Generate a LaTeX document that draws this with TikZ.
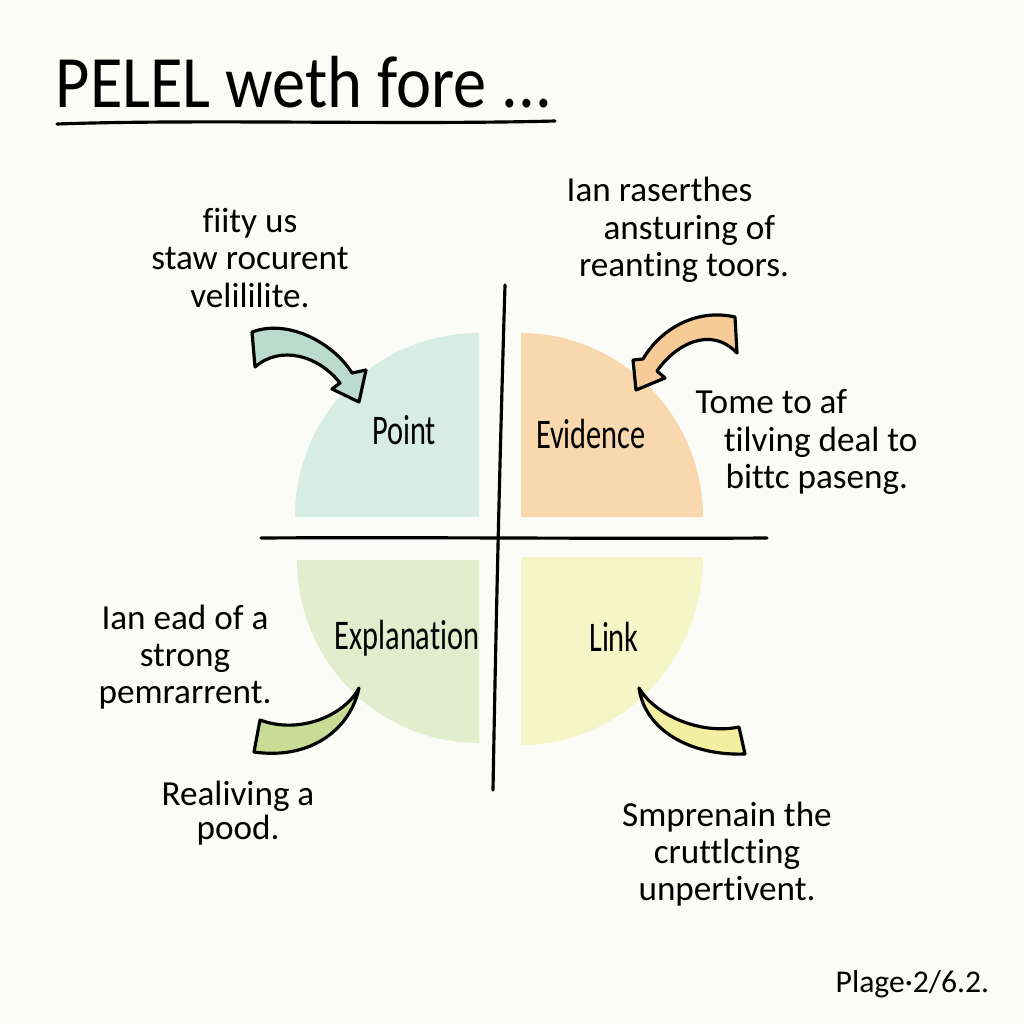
\documentclass[tikz,border=0pt]{standalone}
\usepackage{fontspec}
\setmainfont[Ligatures=NoCommon]{Carlito}
\newfontfamily\handtitle[FakeStretch=0.9,Ligatures=NoCommon]{Carlito}
\newfontfamily\handslim[FakeStretch=0.72,Ligatures=NoCommon]{Carlito}
\definecolor{pgback}{HTML}{FBFBF7}
\definecolor{ptfill}{HTML}{D6ECE5}
\definecolor{evfill}{HTML}{F9D8AE}
\definecolor{exfill}{HTML}{E2EDCD}
\definecolor{lkfill}{HTML}{F4F6C8}
\definecolor{ptarrow}{HTML}{B9DACD}
\definecolor{evarrow}{HTML}{F6CB96}
\definecolor{exarrow}{HTML}{C8DC96}
\definecolor{lkarrow}{HTML}{F3EEA0}

\begin{document}
\begin{tikzpicture}[x=0.01cm,y=-0.01cm,
  note/.style={align=center,inner sep=0pt,font=\fontsize{10}{10.6}\selectfont},
  lbl/.style={inner sep=0pt,font=\handslim\fontsize{12}{14}\selectfont},
  pen/.style={line width=0.9pt,line cap=round},
  blockarrow/.style={draw=black,line width=0.9pt,line join=round}]
  % Paper
  \fill[pgback] (0,0) rectangle (1024,1024);
  \useasboundingbox (0,0) rectangle (1024,1024);
  % Title and underline
  \node[anchor=base west,inner sep=0pt,font=\handtitle\fontsize{21}{24}\selectfont]
    (title) at (55,107) {PELEL weth fore ...};
  \draw[pen] (57,124) .. controls (200,119) and (400,125) .. (555,121);
  % Quarter petals
  \fill[ptfill] (479,517) -- (295,517) .. controls (295,415) and (377,333) .. (479,333) -- cycle;
  \fill[evfill] (521,517) -- (521,333) .. controls (621,333) and (703,416) .. (703,517) -- cycle;
  \fill[exfill] (479,560) -- (297,560) .. controls (297,661) and (378,743) .. (479,743) -- cycle;
  \fill[lkfill] (521,557) -- (703,557) .. controls (703,661) and (621,745) .. (521,745) -- cycle;
  % Axes
  \draw[pen] (505,285) .. controls (500,450) and (496,620) .. (493,790);
  \draw[pen] (261,538) .. controls (420,537) and (600,539) .. (767,538);
  % Petal labels
  \node[lbl] (point) at (404,430) {Point};
  \node[lbl] (evidence) at (591,434) {Evidence};
  \node[lbl] (explanation) at (407,638) {Explanation};
  \node[lbl] (link) at (614,637) {Link};
  % Notes
  \node[note] (ptNote) at (250,258) {fiity us\\staw rocurent\\velililite.};
  \node[note,align=left,anchor=west] (evNote) at (566,230)
    {Ian raserthes\\\hspace*{10.5pt}ansturing of\\\hspace*{3.5pt}reanting toors.};
  \node[note,align=left,anchor=west] (evNote2) at (695,442)
    {Tome to af\\\hspace*{8pt}tilving deal to\\\hspace*{8.5pt}bittc paseng.};
  \node[note] (exNote) at (185,657) {Ian ead of a\\strong\\pemrarrent.};
  \node[note,font=\fontsize{10}{8.5}\selectfont] (exNote2) at (238,813) {Realiving a\\pood.};
  \node[note] (lkNote) at (727,854) {Smprenain the\\cruttlcting\\unpertivent.};
  \node[anchor=base west,inner sep=0pt,font=\fontsize{9}{11}\selectfont]
    (page) at (835,992) {Plage·2/6.2.};
  % Block arrows
  \filldraw[blockarrow,fill=ptarrow] (252,332) .. controls (290,318) and (335,345) .. (352,373)
    -- (366,370) -- (359,402) -- (332,389) -- (340,383)
    .. controls (318,355) and (280,345) .. (255,367) -- cycle;
  \filldraw[blockarrow,fill=evarrow] (735,317) .. controls (695,308) and (660,330) .. (643,359)
    -- (633,360) -- (636,390) -- (665,378) -- (657,371)
    .. controls (675,345) and (710,325) .. (737,353) -- cycle;
  \filldraw[blockarrow,fill=exarrow] (359,688) .. controls (350,730) and (310,760) .. (254,752)
    -- (260,720) .. controls (300,735) and (345,715) .. (359,688) -- cycle;
  \filldraw[blockarrow,fill=lkarrow] (639,688) .. controls (645,730) and (690,756) .. (745,754)
    -- (739,727) .. controls (700,735) and (655,715) .. (639,688) -- cycle;
\end{tikzpicture}
\end{document}
